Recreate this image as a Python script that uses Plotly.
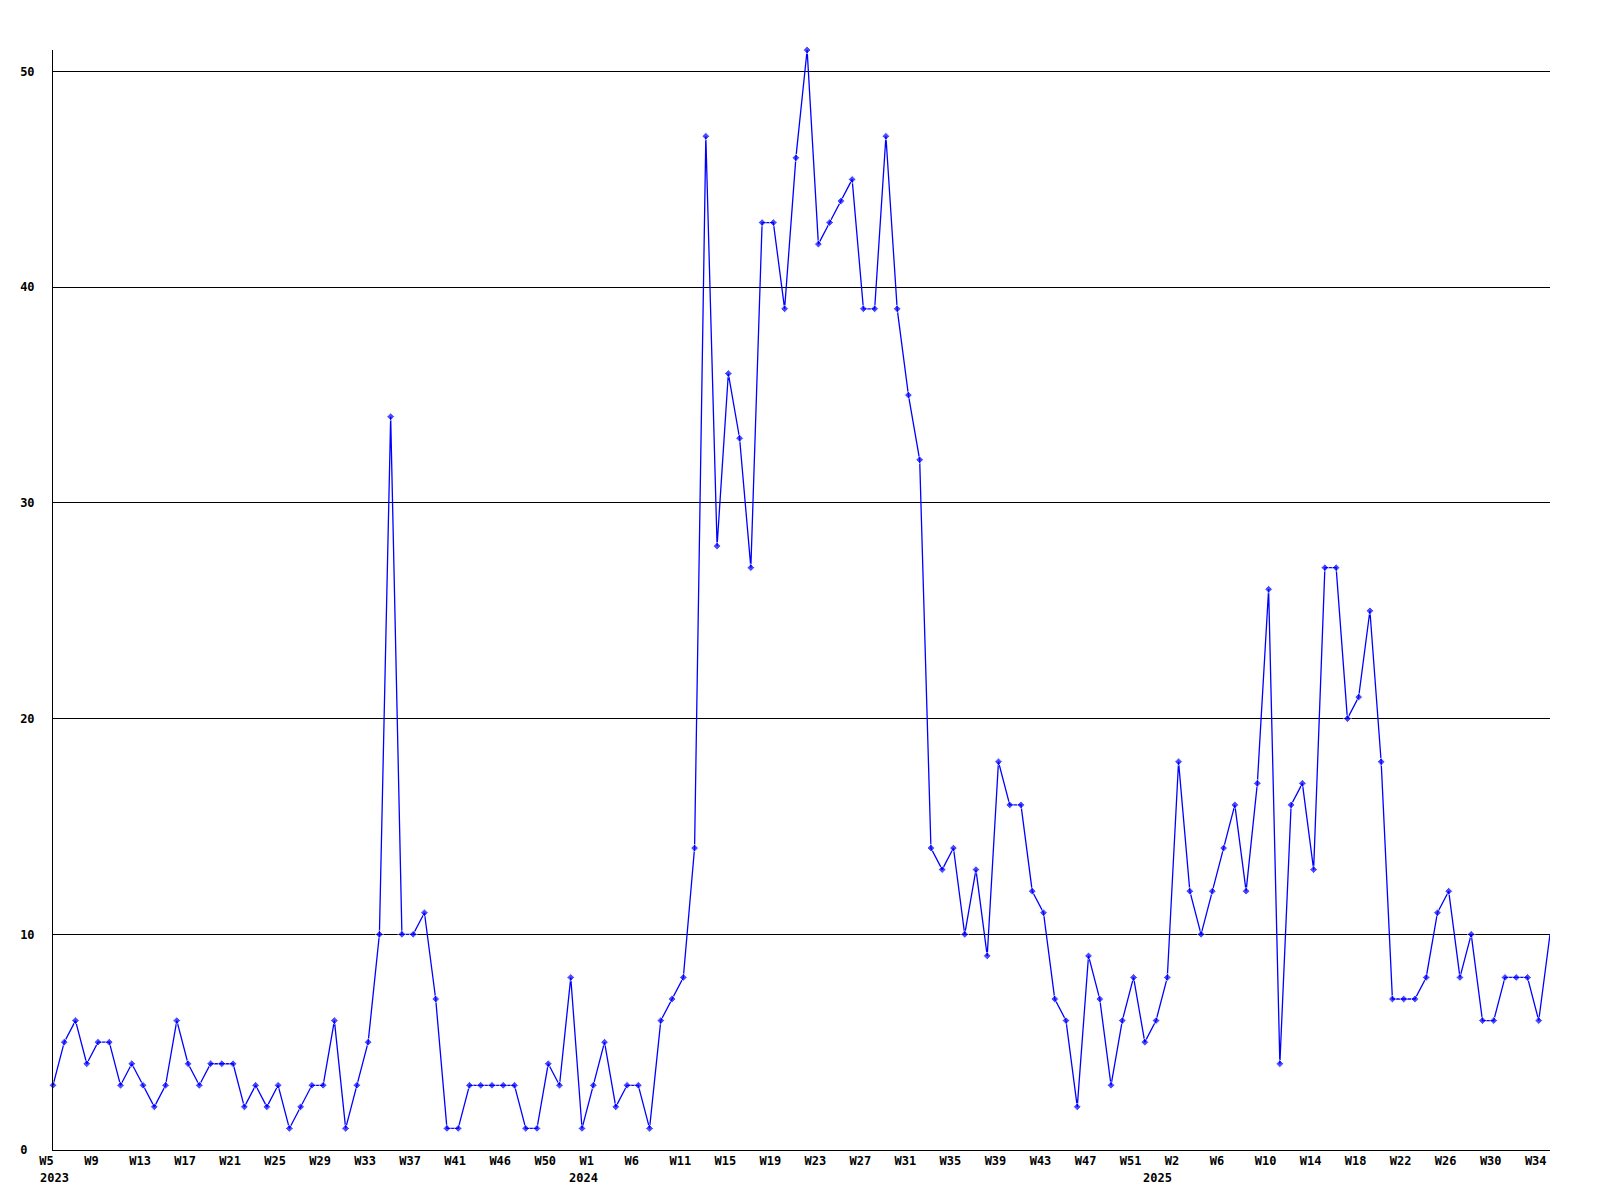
import plotly.graph_objects as go

values = [3, 5, 6, 4, 5, 5, 3, 4, 3, 2, 3, 6, 4, 3, 4, 4, 4, 2, 3, 2,
          3, 1, 2, 3, 3, 6, 1, 3, 5, 10, 34, 10, 10, 11, 7, 1, 1, 3, 3, 3,
          3, 3, 1, 1, 4, 3, 8, 1, 3, 5, 2, 3, 3, 1, 6, 7, 8, 14, 47, 28,
          36, 33, 27, 43, 43, 39, 46, 51, 42, 43, 44, 45, 39, 39, 47, 39, 35, 32, 14, 13,
          14, 10, 13, 9, 18, 16, 16, 12, 11, 7, 6, 2, 9, 7, 3, 6, 8, 5, 6, 8,
          18, 12, 10, 12, 14, 16, 12, 17, 26, 4, 16, 17, 13, 27, 27, 20, 21, 25, 18, 7,
          7, 7, 8, 11, 12, 8, 10, 6, 6, 8, 8, 8, 6, 10]

tick_labels = ["W5", "W9", "W13", "W17", "W21", "W25", "W29", "W33", "W37", "W41",
               "W46", "W50", "W1", "W6", "W11", "W15", "W19", "W23", "W27", "W31",
               "W35", "W39", "W43", "W47", "W51", "W2", "W6", "W10", "W14", "W18",
               "W22", "W26", "W30", "W34"]
tick_positions = [i * 4 for i in range(len(tick_labels))]

year_labels = ["2023", "2024", "2025"]
year_positions = [0, 47, 98]

y_ticks = [0, 10, 20, 30, 40, 50]
y_ticktext = ["0\u00a0", "10", "20", "30", "40", "50"]

x = list(range(len(values)))
marker_sizes = [6] * len(values)
marker_sizes[-1] = 0

FONT = "DejaVu Sans Mono"
# left-align the week labels: pad to equal width in the monospace font
padded_ticks = [t.ljust(3, "\u00a0") for t in tick_labels]

fig = go.Figure()
fig.add_trace(go.Scatter(
    x=x, y=values, mode="lines+markers",
    line=dict(color="#0000FF", width=1.3),
    marker=dict(symbol="diamond", size=marker_sizes, color="#0000FF"),
    cliponaxis=False, showlegend=False, hoverinfo="y",
))

for pos, lab in zip(year_positions, year_labels):
    fig.add_annotation(
        x=pos, y=0, xref="x", yref="paper", text=lab, showarrow=False,
        xanchor="left", yanchor="top", xshift=-15.5, yshift=-19,
        font=dict(family=FONT, size=12, color="#000000", weight="bold"),
    )

fig.update_layout(
    width=1584, height=1184,
    margin=dict(l=42, r=42, t=42, b=42),
    paper_bgcolor="white", plot_bgcolor="white",
    font=dict(family=FONT, size=12, color="#000000"),
    xaxis=dict(
        range=[0, len(values) - 1], tickmode="array",
        tickvals=tick_positions, ticktext=padded_ticks,
        showgrid=False, zeroline=False, showline=True, linecolor="#000000", linewidth=1,
        ticks="", tickfont=dict(family=FONT, size=12, color="#000000", weight="bold"),
        ticklabelshift=-3, ticklabelstandoff=0,
    ),
    yaxis=dict(
        range=[0, 51], tickmode="array", tickvals=y_ticks, ticktext=y_ticktext,
        showgrid=True, gridcolor="#000000", gridwidth=1,
        zeroline=False, showline=True, linecolor="#000000", linewidth=1,
        ticks="", tickfont=dict(family=FONT, size=12, color="#000000", weight="bold"),
        ticklabelstandoff=15,
    ),
)

fig.write_html("out.html")
